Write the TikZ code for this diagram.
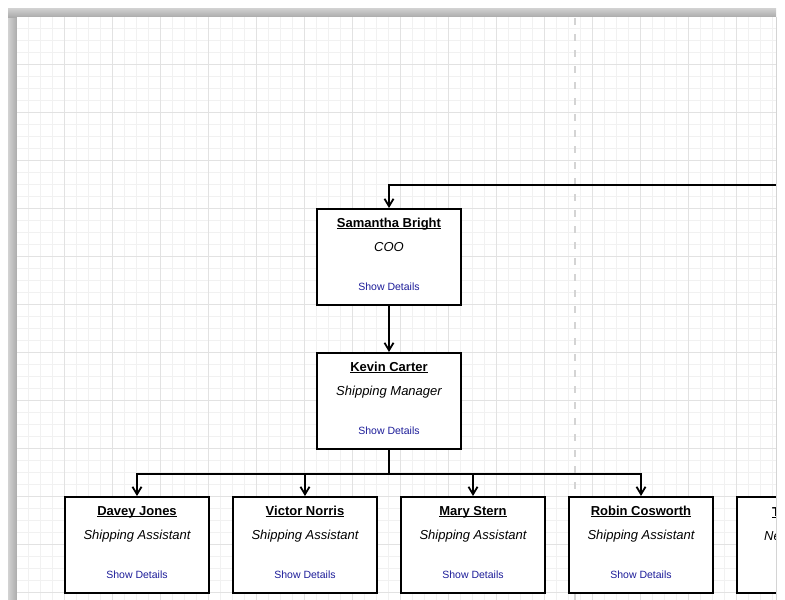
\documentclass[tikz,border=0pt]{standalone}
\usepackage{fontspec}
\setmainfont{Liberation Sans}
\usetikzlibrary{positioning, arrows.meta, calc}
\definecolor{gridminor}{HTML}{F1F1F1}
\definecolor{gridmajor}{HTML}{E2E2E2}
\definecolor{showblue}{HTML}{1C1C99}
\definecolor{shadowdark}{HTML}{ABABAB}
\definecolor{shadowlight}{HTML}{D2D2D2}
\definecolor{splitgray}{HTML}{D4D4D4}

% underline close to the baseline
\newcommand{\nameline}[1]{\setbox0\hbox{#1}\rlap{\rule[-2pt]{\wd0}{1pt}}\box0}

\begin{document}
\begin{tikzpicture}[
x=1pt, y=-1pt,
    person/.style={rectangle, draw, line width=2pt, fill=white, minimum width=144pt, minimum height=96pt, inner sep=0pt},
    pname/.style={anchor=base, inner sep=0pt, font=\fontsize{13}{15}\selectfont\bfseries},
    ptitle/.style={anchor=base, inner sep=0pt, font=\fontsize{13}{15}\selectfont\itshape},
    pshow/.style={anchor=base, inner sep=0pt, text=showblue, font=\fontsize{10.5}{12}\selectfont},
    edge/.style={draw, line width=2pt, -{Straight Barb[length=7.5pt, width=9pt, line width=1.8pt]}}
]
    \useasboundingbox (0,0) rectangle (785,600);

    % Page and shadow
    \shade[left color=shadowlight, right color=shadowdark] (8,8) rectangle (17,600);
    \shade[top color=shadowlight, bottom color=shadowdark] (8,8) rectangle (776,17);
    \fill[white] (17,17) rectangle (776,600);

    \begin{scope}
    \clip (17,17) rectangle (776,600);

    % Grid
    \foreach \gx in {28,40,...,772} \draw[gridminor, line width=1pt] (\gx,17) -- (\gx,600);
    \foreach \gy in {28,40,...,592} \draw[gridminor, line width=1pt] (17,\gy) -- (776,\gy);
    \foreach \gx in {64,112,...,760} \draw[gridmajor, line width=1pt] (\gx,17) -- (\gx,600);
    \foreach \gy in {64,112,...,592} \draw[gridmajor, line width=1pt] (17,\gy) -- (776,\gy);

    % Page break
    \draw[splitgray, line width=2.5pt, dash pattern=on 7pt off 9pt] (575,18) -- (575,600);

    % People
    \node[person] (sam) at (389,257) {};
    \node[person] (kev) at (389,401) {};
    \node[person] (davey) at (137,545) {};
    \node[person] (victor) at (305,545) {};
    \node[person] (mary) at (473,545) {};
    \node[person] (robin) at (641,545) {};
    \node[person] (next) at (809,545) {};

    % Texts
    \node[pname] (samname) at ([yshift=-19pt]sam.north) {\nameline{Samantha Bright}};
    \node[ptitle] (samtitle) at ([yshift=-43pt]sam.north) {COO};
    \node[pshow] (samshow) at ([yshift=-82pt]sam.north) {Show Details};

    \node[pname] (kevname) at ([yshift=-19pt]kev.north) {\nameline{Kevin Carter}};
    \node[ptitle] (kevtitle) at ([yshift=-43pt]kev.north) {Shipping Manager};
    \node[pshow] (kevshow) at ([yshift=-82pt]kev.north) {Show Details};

    \node[pname] (daveyname) at ([yshift=-19pt]davey.north) {\nameline{Davey Jones}};
    \node[ptitle] (daveytitle) at ([yshift=-43pt]davey.north) {Shipping Assistant};
    \node[pshow] (daveyshow) at ([yshift=-82pt]davey.north) {Show Details};

    \node[pname] (victorname) at ([yshift=-19pt]victor.north) {\nameline{Victor Norris}};
    \node[ptitle] (victortitle) at ([yshift=-43pt]victor.north) {Shipping Assistant};
    \node[pshow] (victorshow) at ([yshift=-82pt]victor.north) {Show Details};

    \node[pname] (maryname) at ([yshift=-19pt]mary.north) {\nameline{Mary Stern}};
    \node[ptitle] (marytitle) at ([yshift=-43pt]mary.north) {Shipping Assistant};
    \node[pshow] (maryshow) at ([yshift=-82pt]mary.north) {Show Details};

    \node[pname] (robinname) at ([yshift=-19pt]robin.north) {\nameline{Robin Cosworth}};
    \node[ptitle] (robintitle) at ([yshift=-43pt]robin.north) {Shipping Assistant};
    \node[pshow] (robinshow) at ([yshift=-82pt]robin.north) {Show Details};

    \node[pname, anchor=base west] (nextname) at (772,516) {\nameline{T}};
    \node[ptitle, anchor=base west] (nexttitle) at (764,540) {Ne};

    % Edges
    \coordinate (offpage) at (790,185);
    \draw[edge] (offpage) -| (sam.north);
    \draw[edge] (sam) -- (kev);
    \draw[edge] (kev.south) -- ++(0,24) -| (davey.north);
    \draw[edge] (kev.south) -- ++(0,24) -| (victor.north);
    \draw[edge] (kev.south) -- ++(0,24) -| (mary.north);
    \draw[edge] (kev.south) -- ++(0,24) -| (robin.north);
    \end{scope}

    % Page edge
    \draw[splitgray, line width=1pt] (776,17) -- (776,600);

\end{tikzpicture}
\end{document}
